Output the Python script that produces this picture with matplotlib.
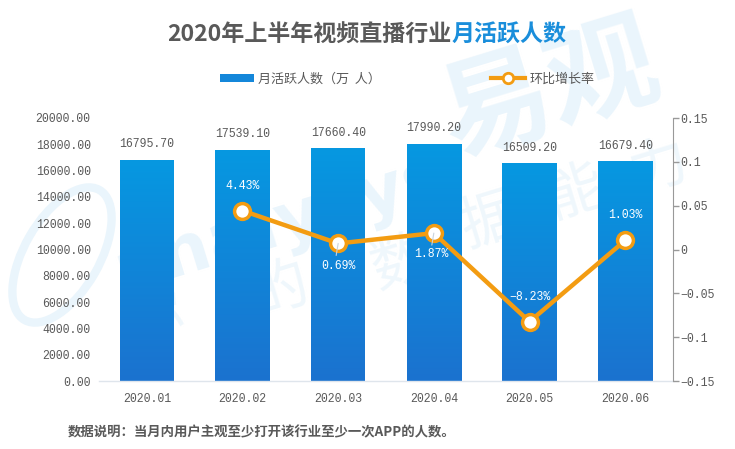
import matplotlib
matplotlib.use("Agg")
import matplotlib.pyplot as plt
import numpy as np
from matplotlib.lines import Line2D
from matplotlib.patches import Patch, Ellipse

CJK = ["Noto Sans CJK SC", "DejaVu Sans"]
MONO = ["Liberation Mono", "Noto Sans CJK SC"]
GREY = "#595959"
BLUE_TOP = "#0698e1"
BLUE_BOTTOM = "#1b72cf"
ORANGE = "#f39c12"

months = ["2020.01", "2020.02", "2020.03", "2020.04", "2020.05", "2020.06"]
users = [16795.70, 17539.10, 17660.40, 17990.20, 16509.20, 16679.40]
user_labels = ["16795.70", "17539.10", "17660.40", "17990.20", "16509.20", "16679.40"]
growth = [0.0443, 0.0069, 0.0187, -0.0823, 0.0103]
growth_labels = ["4.43%", "0.69%", "1.87%", "−8.23%", "1.03%"]
growth_offsets = [(0, 25), (0, -23), (-3, -21), (0, 25), (0, 25)]  # label offset in px from the marker
left_ticks = [0, 2000, 4000, 6000, 8000, 10000, 12000, 14000, 16000, 18000, 20000]
right_ticks = [-0.15, -0.1, -0.05, 0, 0.05, 0.1, 0.15]
right_labels = ["−0.15", "−0.1", "−0.05", "0", "0.05", "0.1", "0.15"]

W, H = 735, 449
fig = plt.figure(figsize=(W / 100, H / 100), dpi=100)
ax1 = fig.add_axes([99 / W, (H - 381) / H, 574 / W, 263 / H])
ax1.patch.set_alpha(0)

# watermark behind everything
wm = "#eaf5fc"
fig.text(550 / W, (H - 92) / H, "易观", fontsize=80, color=wm, rotation=17, fontweight="bold",
         family=CJK, ha="center", va="center", zorder=-1)
fig.text(280 / W, (H - 225) / H, "analysys", fontsize=50, color=wm, rotation=17, fontweight="bold",
         family="DejaVu Sans", ha="center", va="center", zorder=-1)
fig.add_artist(Ellipse((62, H - 255), 150, 75, angle=60, transform=None, facecolor="none",
                       edgecolor=wm, linewidth=6, zorder=-1))
wm_chars = [("你", 155, 320), ("的", 280, 290), ("数", 400, 263), ("据", 490, 222), ("能", 575, 193), ("力", 660, 167)]
for ch, px, py in wm_chars:
    fig.text(px / W, (H - py) / H, ch, fontsize=42, color="#eff7fc", rotation=17,
             family=CJK, ha="center", va="center", zorder=-1)

x = np.arange(len(months))
width = 54 / (574 / 6)

# gradient bars
grad = np.linspace(0, 1, 256).reshape(-1, 1)
cmap = matplotlib.colors.LinearSegmentedColormap.from_list("bar", [BLUE_BOTTOM, BLUE_TOP])
bars = ax1.bar(x, users, width, color="none", zorder=2)
for rect in bars:
    ax1.imshow(grad, origin="lower", aspect="auto", cmap=cmap, zorder=2,
               extent=(rect.get_x(), rect.get_x() + rect.get_width(), 0, rect.get_height()))
ax1.set_xlim(-0.5, 5.5)
ax1.set_ylim(0, 20000)

for xi, v, s in zip(x, users, user_labels):
    ax1.annotate(s, (xi, v), xytext=(0, 10), textcoords="offset pixels", ha="center", va="bottom",
                 fontsize=8.3, color=GREY, family=MONO)

ax1.set_xticks(x)
ax1.set_xticklabels(months, fontsize=8.3, color=GREY, family=MONO)
ax1.set_yticks(left_ticks)
ax1.set_yticklabels(["%.2f" % t for t in left_ticks], fontsize=8.3, color=GREY, family=MONO)
ax1.tick_params(axis="both", length=0)
ax1.tick_params(axis="x", pad=9)
ax1.tick_params(axis="y", pad=6)
for name in ["left", "right", "top"]:
    ax1.spines[name].set_visible(False)
ax1.spines["bottom"].set_color("#dfe5ec")
ax1.spines["bottom"].set_linewidth(1)
ax1.spines["bottom"].set_zorder(3)

ax2 = ax1.twinx()
ax2.set_ylim(-0.15, 0.15)
ax2.plot(x[1:], growth, color=ORANGE, linewidth=3.2, marker="o", markersize=11.4,
         markerfacecolor="white", markeredgecolor=ORANGE, markeredgewidth=2.5, zorder=4)
# short pale leaders on the two labels set below their markers
for i in [1, 2]:
    ax2.annotate("", (x[1:][i], growth[i]), xytext=(-2, -12), textcoords="offset pixels", zorder=5,
                 arrowprops=dict(arrowstyle="-", color="#c9d3dd", linewidth=0.8, shrinkA=0, shrinkB=0))
for xi, v, s, off in zip(x[1:], growth, growth_labels, growth_offsets):
    ax2.annotate(s, (xi, v), xytext=off, textcoords="offset pixels", ha="center", va="center",
                 fontsize=8.3, color="white", family=MONO, zorder=5)
ax2.set_yticks(right_ticks)
ax2.set_yticklabels(right_labels, fontsize=8.3, color=GREY, family=MONO)
ax2.tick_params(axis="y", length=4, color="#999999", width=1, pad=1)
for name in ["left", "top", "bottom"]:
    ax2.spines[name].set_visible(False)
ax2.spines["right"].set_color("#999999")

# legend
handles = [Patch(facecolor="#1487da", edgecolor="none"),
           Line2D([], [], color=ORANGE, linewidth=3, marker="o", markersize=7.5,
                  markerfacecolor="white", markeredgecolor=ORANGE, markeredgewidth=2)]
fig.legend(handles, ["月活跃人数（万  人）", "环比增长率"], ncols=2, frameon=False,
           loc="center left", bbox_to_anchor=(208 / W, (H - 79) / H),
           prop={"family": CJK, "size": 9.4}, labelcolor=GREY,
           handlelength=2.6, handleheight=0.6, handletextpad=0.35, columnspacing=8.4)

# title in two colours
renderer = fig.canvas.get_renderer()
t1 = fig.text(167 / W, (H - 35) / H, "2020年上半年视频直播行业", fontsize=16.6, fontweight="bold",
              color=GREY, family=CJK, ha="left", va="center")
end = t1.get_window_extent(renderer).x1
fig.text(end / W, (H - 35) / H, "月活跃人数", fontsize=16.6, fontweight="bold",
         color="#1a8edb", family=CJK, ha="left", va="center")

fig.text(68 / W, (H - 432) / H, "数据说明：当月内用户主观至少打开该行业至少一次APP的人数。",
         fontsize=9.65, fontweight="bold", color=GREY, family=CJK, ha="left", va="center")

plt.savefig("out.png", dpi=100)
plt.close()
